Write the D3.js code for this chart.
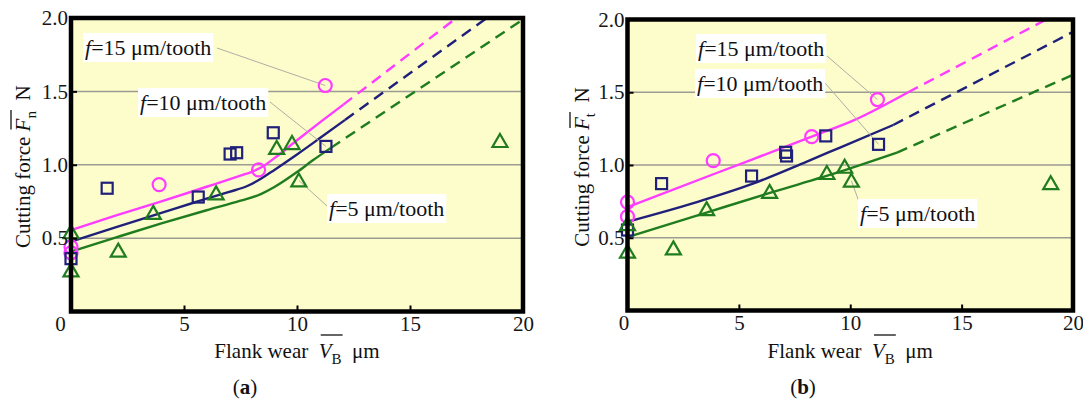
<!DOCTYPE html>
<html>
<head>
<meta charset="utf-8">
<script src="https://cdn.jsdelivr.net/npm/d3@7"></script>
<style>
  html, body { margin: 0; padding: 0; background: #ffffff; }
  svg { display: block; }
</style>
</head>
<body>
<svg id="chart" width="1083" height="401"></svg>
<script>
// ---- shared axis values ----
const xTicks = [0, 5, 10, 15, 20];          // flank wear VB, µm
const yTicks = [0.5, 1.0, 1.5, 2.0];        // cutting force, N
const gridValues = [0.5, 1.0, 1.5];
const feeds = ["15", "10", "5"];            // feed per tooth, µm/tooth

// ---- (a) normal cutting force Fn : measured points [VB, Fn] ----
const fnCircles15 = [[0, 0.44], [0, 0.40], [3.9, 0.865], [8.3, 0.965], [11.25, 1.54]];
const fnSquares10 = [[0, 0.36], [1.6, 0.84], [5.63, 0.78], [7.04, 1.073], [7.33, 1.082], [8.95, 1.218], [11.28, 1.125]];
const fnTriangles5 = [[0, 0.54], [0, 0.28], [2.09, 0.415], [3.64, 0.672], [6.42, 0.805], [9.1, 1.115], [9.78, 1.148], [10.08, 0.893], [18.98, 1.162]];

// ---- (a) fitted trends: solid over measured range, dashed extrapolation ----
const fnFit15 = [[0, 0.555], [2, 0.655], [4, 0.75], [6, 0.85], [7.5, 0.926], [8.0, 0.952], [8.5, 0.99], [9, 1.045], [10, 1.167], [11, 1.287], [12.05, 1.41]];
const fnFit15Ext = [[12.05, 1.41], [17.05, 2.0]];
const fnFit10 = [[0, 0.476], [2, 0.575], [4, 0.672], [5.56, 0.748], [7, 0.815], [7.8, 0.855], [8.4, 0.905], [9, 0.965], [10, 1.07], [11, 1.18], [12.12, 1.305]];
const fnFit10Ext = [[12.12, 1.305], [18.4, 2.0]];
const fnFit5 = [[0, 0.408], [2, 0.505], [4, 0.6], [6, 0.69], [7.5, 0.755], [8.4, 0.8], [9, 0.848], [10, 0.95], [10.7, 1.03], [11.5, 1.115]];
const fnFit5Ext = [[11.5, 1.115], [20, 1.99]];

// ---- (b) thrust cutting force Ft : measured points [VB, Ft] ----
const ftCircles15 = [[0, 0.745], [0, 0.645], [3.85, 1.03], [8.27, 1.195], [11.22, 1.45]];
const ftSquares10 = [[0, 0.553], [1.53, 0.872], [5.57, 0.924], [7.1, 1.087], [7.14, 1.062], [8.9, 1.2], [11.27, 1.142]];
const ftTriangles5 = [[0, 0.594], [0, 0.404], [2.06, 0.427], [3.55, 0.697], [6.38, 0.815], [8.95, 0.945], [9.75, 0.988], [10.05, 0.892], [19.0, 0.875]];

// ---- (b) fitted trends ----
const ftFit15 = [[0, 0.71], [4, 0.945], [8.27, 1.195], [10.2, 1.31], [12.6, 1.5]];
const ftFit15Ext = [[12.6, 1.5], [18.8, 2.0]];
const ftFit10 = [[0, 0.61], [3, 0.74], [5.6, 0.87], [8, 1.02], [9.54, 1.12], [11.93, 1.275]];
const ftFit10Ext = [[11.93, 1.275], [20, 1.915]];
const ftFit5 = [[0, 0.505], [3.58, 0.675], [6.43, 0.81], [9.54, 0.954], [12.1, 1.085]];
const ftFit5Ext = [[12.1, 1.085], [20, 1.62]];

// ---- styling ----
const MAGENTA = "#ff3cff";
const NAVY = "#20207a";
const GREEN = "#1f7c1f";
const PAPER = "#fdfccb";
const FONT = 21;
const SERIF = "Liberation Serif";

const svg = d3.select("#chart");

// Text helper so every label uses the serif face.
function addText(parent) {
  return parent.append("text").attr("font-family", SERIF);
}

// Draws a text run with an overlined italic symbol and a subscript,
// centred on x = 0 with its baseline at y = 0 of the given group.
function symbolTitle(g, before, sym, sub, after, overlineRaise) {
  const t = addText(g).attr("font-size", FONT).attr("fill", "#111").attr("y", 0);
  t.append("tspan").text(before);
  t.append("tspan").attr("font-style", "italic").text(sym);
  t.append("tspan").attr("font-size", 15).attr("dy", 6).text(sub);
  t.append("tspan").attr("dy", -6).text(after);
  const w = t.node().getComputedTextLength();
  t.attr("x", -w / 2);
  const n = t.node();
  const i = before.length;
  const s = n.getStartPositionOfChar(i);
  const e = n.getEndPositionOfChar(i + 1);
  g.append("line")
    .attr("x1", s.x + 2).attr("x2", e.x + 1)
    .attr("y1", -overlineRaise).attr("y2", -overlineRaise)
    .attr("stroke", "#111").attr("stroke-width", 1.3);
  return t;
}

function drawPanel(cfg) {
  const x = d3.scaleLinear().domain([0, 20]).range([cfg.left, cfg.right]);
  const y = d3.scaleLinear().domain([0, 2]).range([cfg.bottom, cfg.top]);
  const g = svg.append("g");

  // plot background
  g.append("rect")
    .attr("x", cfg.left).attr("y", cfg.top)
    .attr("width", cfg.right - cfg.left).attr("height", cfg.bottom - cfg.top)
    .attr("fill", PAPER);

  // horizontal grid
  g.append("g").selectAll("line").data(gridValues).join("line")
    .attr("x1", cfg.left).attr("x2", cfg.right)
    .attr("y1", d => y(d)).attr("y2", d => y(d))
    .attr("stroke", "#9b9b93").attr("stroke-width", 1.5);

  // fitted lines
  const line = d3.line().x(d => x(d[0])).y(d => y(d[1])).curve(d3.curveMonotoneX);
  cfg.fits.forEach(f => {
    g.append("path").attr("d", line(f.solid)).attr("fill", "none")
      .attr("stroke", f.color).attr("stroke-width", 2.4);
    g.append("path").attr("d", line(f.ext)).attr("fill", "none")
      .attr("stroke", f.color).attr("stroke-width", 2.4).attr("stroke-dasharray", "11,7");
  });

  // feed labels with leader lines
  cfg.notes.forEach(nt => {
    g.append("line")
      .attr("x1", nt.from[0]).attr("y1", nt.from[1])
      .attr("x2", x(nt.to[0])).attr("y2", y(nt.to[1]))
      .attr("stroke", "#aeaea6").attr("stroke-width", 1);
    const lg = g.append("g");
    const t = addText(lg).attr("x", nt.x).attr("y", nt.y)
      .attr("font-size", 22).attr("fill", "#111");
    t.append("tspan").attr("font-style", "italic").text("f");
    t.append("tspan").text("=" + nt.feed + " \u03bcm/tooth");
    const b = t.node().getBBox();
    lg.insert("rect", "text")
      .attr("x", b.x - 2).attr("y", b.y - 2)
      .attr("width", b.width + 4).attr("height", b.height + 4)
      .attr("fill", "#ffffff");
  });

  // measured points
  g.append("g").selectAll("circle").data(cfg.circles).join("circle")
    .attr("cx", d => x(d[0])).attr("cy", d => y(d[1])).attr("r", 6.5)
    .attr("fill", "none").attr("stroke", MAGENTA).attr("stroke-width", 2.2);
  g.append("g").selectAll("rect").data(cfg.squares).join("rect")
    .attr("x", d => x(d[0]) - 5.5).attr("y", d => y(d[1]) - 5.5)
    .attr("width", 11).attr("height", 11)
    .attr("fill", "none").attr("stroke", NAVY).attr("stroke-width", 2.2);
  g.append("g").selectAll("path").data(cfg.triangles).join("path")
    .attr("d", d => {
      const cx = x(d[0]), cy = y(d[1]);
      return `M${cx},${cy - 7}L${cx + 7.5},${cy + 6}L${cx - 7.5},${cy + 6}Z`;
    })
    .attr("fill", "none").attr("stroke", GREEN).attr("stroke-width", 2.2).attr("stroke-linejoin", "miter");

  // axes: inward ticks, labels outside
  const xa = g.append("g").attr("transform", `translate(0,${cfg.bottom})`)
    .call(d3.axisBottom(x).tickValues(xTicks).tickSize(-6).tickPadding(5).tickFormat(d3.format("d")));
  const ya = g.append("g").attr("transform", `translate(${cfg.left},0)`)
    .call(d3.axisLeft(y).tickValues(yTicks).tickSize(-6).tickPadding(3).tickFormat(d3.format(".1f")));
  [xa, ya].forEach(a => {
    a.attr("font-family", SERIF).attr("font-size", FONT);
    a.select(".domain").remove();
    a.selectAll(".tick line").attr("stroke", "#000").attr("stroke-width", 2);
    a.selectAll(".tick text").attr("font-size", FONT).attr("fill", "#161616")
      .attr("font-family", SERIF);
  });
  xa.selectAll(".tick text").filter(d => d === 0).attr("dx", cfg.zeroDx);

  // frame
  g.append("rect")
    .attr("x", cfg.left).attr("y", cfg.top)
    .attr("width", cfg.right - cfg.left).attr("height", cfg.bottom - cfg.top)
    .attr("fill", "none").attr("stroke", "#000").attr("stroke-width", 4.5);

  // axis titles
  const cx = (cfg.left + cfg.right) / 2;
  const xt = g.append("g").attr("transform", `translate(${cx},358)`);
  symbolTitle(xt, "Flank wear\u2002", "V", "B", "\u2002\u03bcm", 23);

  const cy = (cfg.top + cfg.bottom) / 2 + 2;
  const yt = g.append("g").attr("transform", `translate(${cfg.yTitleX},${cy}) rotate(-90)`);
  symbolTitle(yt, "Cutting force\u00a0", "F", cfg.forceSub, "\u2002N", 19);

  // panel tag
  const tag = addText(g).attr("x", cfg.tagX).attr("y", 394)
    .attr("text-anchor", "middle").attr("font-size", FONT).attr("fill", "#111");
  tag.append("tspan").text("(");
  tag.append("tspan").attr("font-weight", "bold").text(cfg.tag);
  tag.append("tspan").text(")");
}

drawPanel({
  left: 71, right: 523, top: 18, bottom: 311.5,
  zeroDx: -11, yTitleX: 30, tagX: 245, tag: "a", forceSub: "n",
  circles: fnCircles15, squares: fnSquares10, triangles: fnTriangles5,
  fits: [
    { solid: fnFit15, ext: fnFit15Ext, color: MAGENTA },
    { solid: fnFit10, ext: fnFit10Ext, color: NAVY },
    { solid: fnFit5, ext: fnFit5Ext, color: GREEN }
  ],
  notes: [
    { feed: feeds[0], x: 85, y: 55, from: [217, 48], to: fnCircles15[4] },
    { feed: feeds[1], x: 140, y: 110, from: [270, 102], to: fnSquares10[6] },
    { feed: feeds[2], x: 329, y: 216, from: [327, 206], to: fnTriangles5[7] }
  ]
});

drawPanel({
  left: 627.5, right: 1073, top: 19.5, bottom: 310.5,
  zeroDx: -4, yTitleX: 589, tagX: 803, tag: "b", forceSub: "t",
  circles: ftCircles15, squares: ftSquares10, triangles: ftTriangles5,
  fits: [
    { solid: ftFit15, ext: ftFit15Ext, color: MAGENTA },
    { solid: ftFit10, ext: ftFit10Ext, color: NAVY },
    { solid: ftFit5, ext: ftFit5Ext, color: GREEN }
  ],
  notes: [
    { feed: feeds[0], x: 698, y: 56, from: [827, 56], to: ftCircles15[4] },
    { feed: feeds[1], x: 697, y: 91, from: [825, 83], to: ftSquares10[6] },
    { feed: feeds[2], x: 860, y: 221, from: [862, 210], to: ftTriangles5[7] }
  ]
});
</script>
</body>
</html>
